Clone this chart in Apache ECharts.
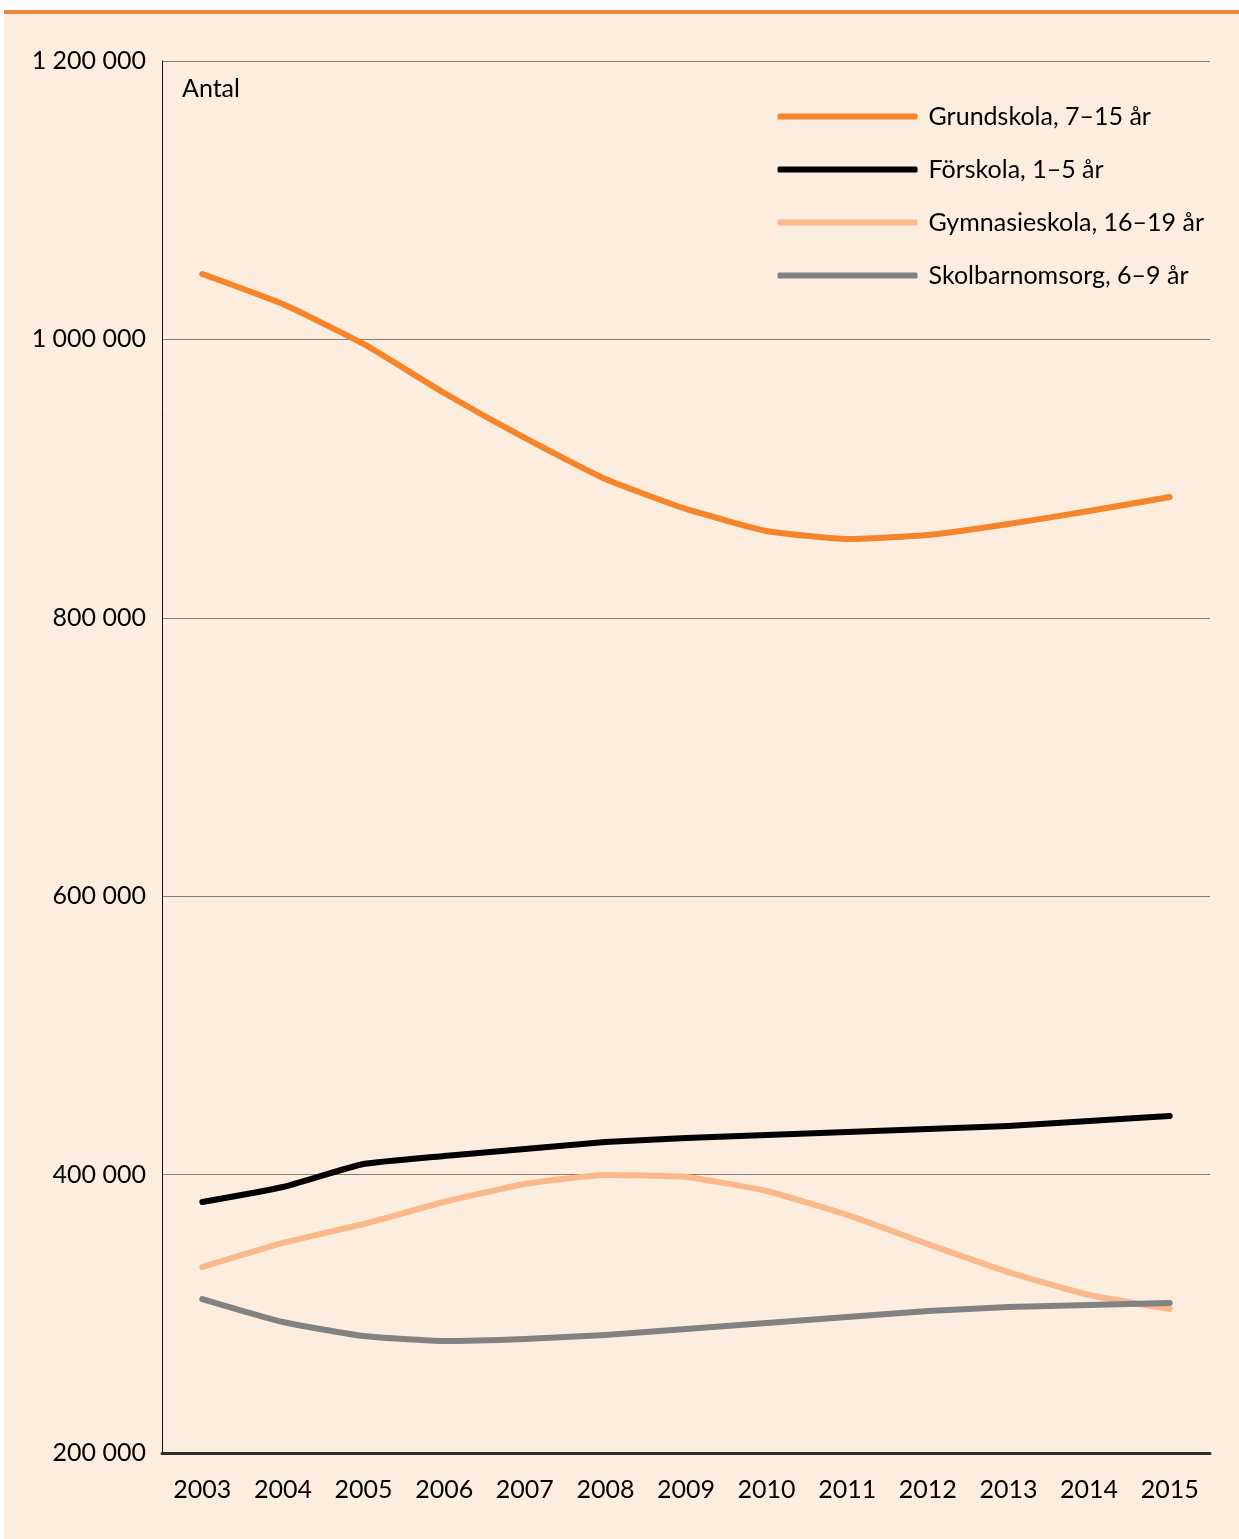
<!DOCTYPE html>
<html>
<head>
<meta charset="utf-8">
<script src="https://cdn.jsdelivr.net/npm/echarts@6/dist/echarts.min.js"></script>
<style>
  html, body { margin: 0; padding: 0; background: #ffffff; }
  #panel { position: absolute; left: 4px; top: 14px; width: 1235px; height: 1525px; background: #fdeddf; }
  #bar { position: absolute; left: 4px; top: 10px; width: 1235px; height: 4px; background: #f0883a; }
  #chart { position: absolute; left: 0; top: 0; width: 1239px; height: 1539px; }
</style>
</head>
<body>
<div id="panel"></div>
<div id="bar"></div>
<div id="chart"></div>
<script>
const years = ['2003', '2004', '2005', '2006', '2007', '2008', '2009', '2010', '2011', '2012', '2013', '2014', '2015'];

const grundskola = [1047000, 1025400, 996700, 961500, 929200, 899700, 878200, 862400, 856600, 859500, 867400, 876700, 886800];
const forskola = [380300, 391100, 407600, 413400, 418400, 423400, 426300, 428400, 430600, 432700, 434900, 438500, 442100];
const gymnasieskola = [333600, 350900, 364500, 380300, 393200, 399700, 398300, 388200, 371000, 350100, 330000, 313500, 303400];
const skolbarnomsorg = [310600, 294100, 284000, 280400, 281900, 284800, 289100, 293400, 297700, 302000, 304900, 306300, 307700];

const seriesNames = ['Grundskola, 7–15 år', 'Förskola, 1–5 år', 'Gymnasieskola, 16–19 år', 'Skolbarnomsorg, 6–9 år'];
const seriesColors = ['#f5842b', '#000000', '#f9b98b', '#828282'];

const font = 'Lato, "Open Sans", sans-serif';

const chart = echarts.init(document.getElementById('chart'));

const makeLine = (name, data, color) => ({
    name: name,
    type: 'line',
    data: data,
    smooth: 0.15,
    symbol: 'none',
    lineStyle: { color: color, width: 6, cap: 'round', join: 'round' },
    itemStyle: { color: color }
})

chart.setOption({
    backgroundColor: 'transparent',
    animation: false,
    textStyle: { fontFamily: font },
    grid: { left: 162, right: 29, top: 61, bottom: 86, containLabel: false },
    legend: {
        right: 30,
        top: 99,
        orient: 'vertical',
        itemWidth: 140,
        itemHeight: 6,
        itemGap: 28,
        icon: 'roundRect',
        align: 'left',
        textStyle: { fontFamily: font, fontSize: 25, color: '#000', padding: [0, 0, 0, 6] },
        data: seriesNames
    },
    graphic: [
        { type: 'text', left: 182, top: 76, style: { text: 'Antal', font: '25px ' + font, fill: '#000' } }
    ],
    xAxis: {
        type: 'category',
        data: years,
        boundaryGap: true,
        axisLine: { show: true, lineStyle: { color: '#2d2d2d', width: 3 } },
        axisTick: { show: false },
        axisLabel: { fontSize: 25, color: '#000', margin: 24, fontFamily: font }
    },
    yAxis: {
        type: 'value',
        min: 200000,
        max: 1200000,
        interval: 200000,
        axisLine: { show: true, lineStyle: { color: '#111', width: 1 } },
        axisTick: { show: false },
        splitLine: { show: true, lineStyle: { color: '#857a72', width: 1 } },
        axisLabel: {
            fontSize: 25,
            color: '#000',
            margin: 16,
            fontFamily: font,
            formatter: v => String(v).replace(/\B(?=(\d{3})+(?!\d))/g, ' ')
        }
    },
    series: [
        makeLine(seriesNames[0], grundskola, seriesColors[0]),
        makeLine(seriesNames[1], forskola, seriesColors[1]),
        makeLine(seriesNames[2], gymnasieskola, seriesColors[2]),
        makeLine(seriesNames[3], skolbarnomsorg, seriesColors[3])
    ]
});
</script>
</body>
</html>
